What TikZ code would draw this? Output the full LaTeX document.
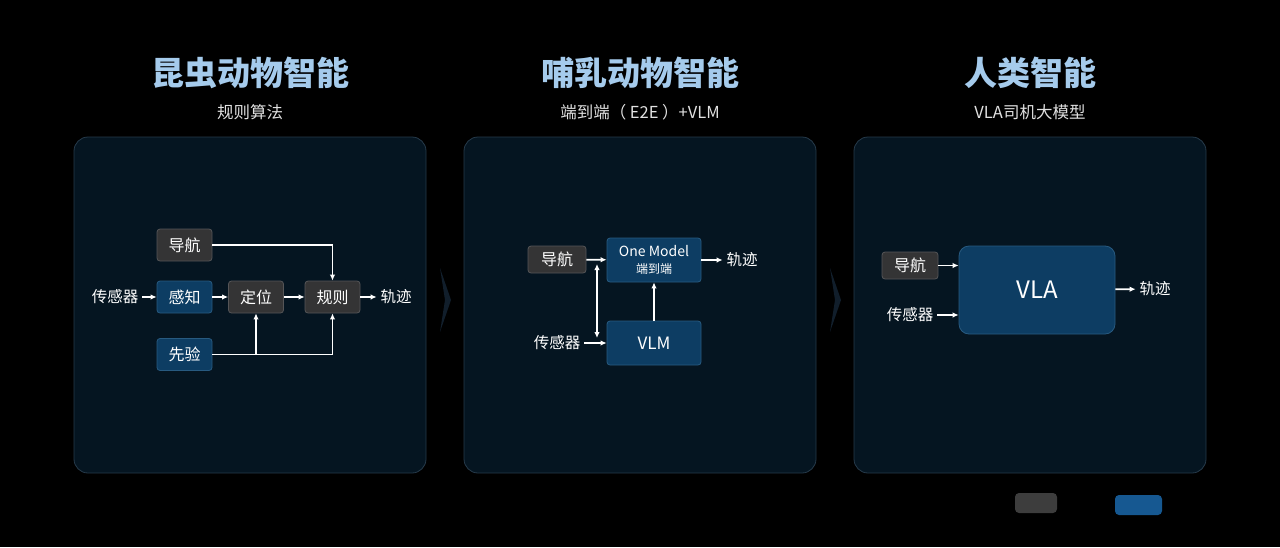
\documentclass[tikz,border=0pt]{standalone}
\usepackage{fontspec}
\setmainfont{Noto Sans CJK SC}
\usetikzlibrary{arrows.meta}
\definecolor{panelfill}{RGB}{5,21,33}
\definecolor{panelline}{RGB}{38,58,74}
\definecolor{grayfill}{RGB}{52,52,53}
\definecolor{grayline}{RGB}{85,85,87}
\definecolor{bluefill}{RGB}{13,61,99}
\definecolor{blueline}{RGB}{40,90,128}
\definecolor{titleblue}{RGB}{165,203,236}
\definecolor{subgray}{RGB}{225,225,225}
\definecolor{chev}{RGB}{17,30,43}
\definecolor{markblue}{RGB}{22,88,145}
\begin{document}
\begin{tikzpicture}[x=1pt, y=-1pt, line width=1.7pt, >={Latex[length=6pt,width=5.5pt]},
	panel/.style = {draw=panelline, fill=panelfill, line width=0.8pt, rounded corners=14pt},
	gbox/.style = {draw=grayline, fill=grayfill, line width=0.8pt, rounded corners=3pt, text=white, minimum width=55pt, minimum height=32pt, inner sep=0pt, font=\fontsize{16}{18}\selectfont},
	bbox/.style = {gbox, draw=blueline, fill=bluefill},
	lbl/.style = {text=white, inner sep=3pt, font=\fontsize{15.5}{18}\selectfont},
	title/.style = {text=titleblue, font=\fontsize{33}{38}\selectfont\bfseries},
	sub/.style = {text=subgray, font=\fontsize{16.5}{19}\selectfont}]
	\fill[black] (0,0) rectangle (1280,547);
	\useasboundingbox (0,0) rectangle (1280,547);
	
	% panels
	\draw[panel] (74,137) rectangle (426,473);
	\draw[panel] (464,137) rectangle (816,473);
	\draw[panel] (854,137) rectangle (1206,473);
	\fill[chev] (440,268) -- (451,300) -- (440,332) -- (445,300) -- cycle;
	\fill[chev] (830,268) -- (841,300) -- (830,332) -- (835,300) -- cycle;
	
	% titles
	\node[title] (t1) at (250,73) {昆虫动物智能};
	\node[sub] (s1) at (250,112) {规则算法};
	\node[title] (t2) at (640,73) {哺乳动物智能};
	\node[sub] (s2) at (640,112) {端到端（ E2E ）+VLM};
	\node[title] (t3) at (1030,73) {人类智能};
	\node[sub] (s3) at (1030,112) {VLA司机大模型};
	
	% rules
	\node[gbox] (nav1) at (184.5,245) {导航};
	\node[bbox] (perc) at (184.5,297) {感知};
	\node[gbox] (loc) at (256,297) {定位};
	\node[gbox] (rule) at (332.5,297) {规则};
	\node[bbox] (prior) at (184.5,354.5) {先验};
	\node[lbl] (sens1) at (115,297) {传感器};
	\node[lbl] (traj1) at (396,297) {轨迹};
	
		\draw[white, ->] (sens1) -- (perc);
		\draw[white, ->] (perc) -- (loc);
		\draw[white, ->] (loc) -- (rule);
		\draw[white, ->] (rule) -- (traj1);
		\draw[white, ->] (nav1) -| (rule);
		\draw[white, ->] (prior) -| (loc);
		\draw[white, ->] (prior) -| (rule);
	
	% end to end
	\node[gbox, minimum width=58pt, minimum height=27pt] (nav2) at (557,259.5) {导航};
	\node[bbox, minimum width=94pt, minimum height=44pt, align=center] (one) at (654,260)
		{{\fontsize{14}{15}\selectfont One Model}\\[-1pt]{\fontsize{12}{13}\selectfont 端到端}};
	\node[bbox, minimum width=94pt, minimum height=44pt, font=\fontsize{17}{19}\selectfont] (vlm) at (654,343) {VLM};
	\node[lbl] (sens2) at (557,343) {传感器};
	\node[lbl] (traj2) at (742,260) {轨迹};
	\coordinate (c1) at (597,264);
	\coordinate (c2) at (597,338);
	
		\draw[white, ->] (nav2) -- (one);
		\draw[white, ->] (sens2) -- (vlm);
		\draw[white, <->] (c1) -- (c2);
		\draw[white, ->] (vlm) -- (one);
		\draw[white, ->] (one) -- (traj2);
	
	% vla
	\node[gbox, minimum width=56pt, minimum height=27pt] (nav3) at (910,265.5) {导航};
	\node[bbox, minimum width=156pt, minimum height=88pt, rounded corners=10pt, font=\fontsize{24}{27}\selectfont] (vla) at (1037,290) {VLA};
	\node[lbl] (sens3) at (910,315) {传感器};
	\node[lbl] (traj3) at (1155,289) {轨迹};
	
		\draw[white, ->] (nav3.east) -- (nav3.east -| vla.west);
		\draw[white, ->] (sens3.east) -- (sens3.east -| vla.west);
		\draw[white, ->] (vla) -- (traj3);
	
	% watermark
	\fill[black!76, rounded corners=4pt] (1015,493) rectangle (1057,513);
	\fill[markblue, rounded corners=4pt] (1115,495) rectangle (1162,515);
\end{tikzpicture}
\end{document}
